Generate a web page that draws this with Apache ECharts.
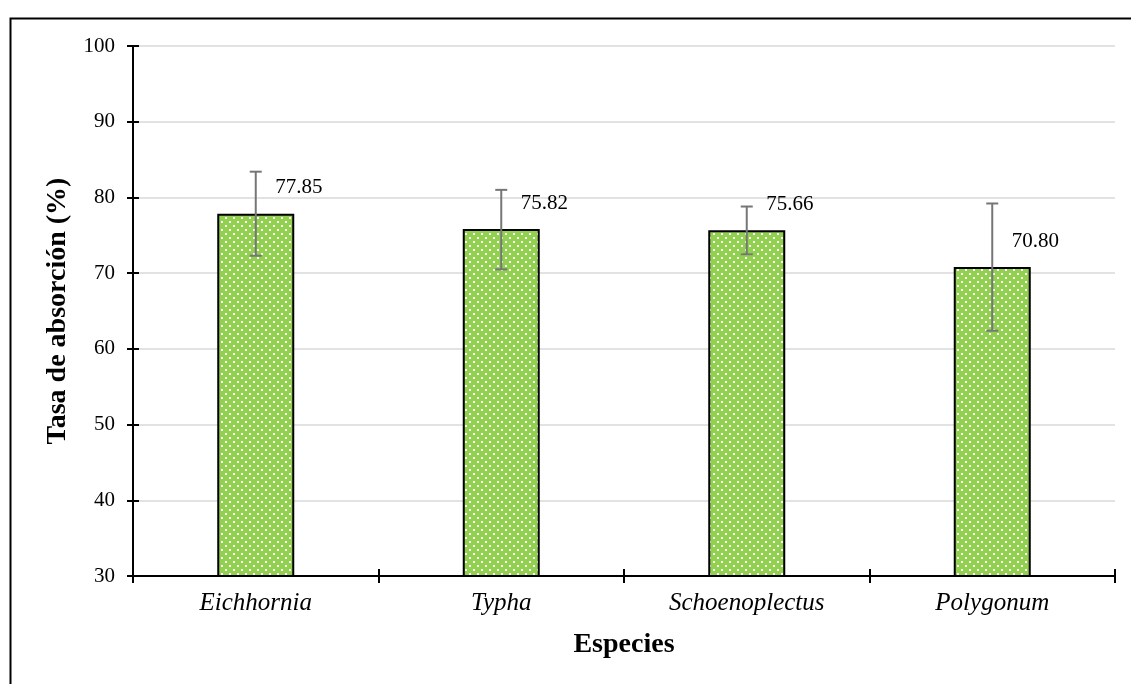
<!DOCTYPE html>
<html>
<head>
<meta charset="utf-8">
<script src="https://cdn.jsdelivr.net/npm/echarts@6/dist/echarts.min.js"></script>
<style>html,body{margin:0;padding:0;background:#fff;}#c{width:1131px;height:684px;}</style>
</head>
<body>
<div id="c"></div>
<script>
const categories = ['Eichhornia', 'Typha', 'Schoenoplectus', 'Polygonum'];
const values = [77.85, 75.82, 75.66, 70.80];
const errLow = [72.3, 70.5, 72.5, 62.4];
const errHigh = [83.4, 81.0, 78.8, 79.2];
const yTicks = [30, 40, 50, 60, 70, 80, 90, 100];

const FONT = '"Liberation Serif", "Times New Roman", serif';

function makePattern() {
  const c = document.createElement('canvas');
  c.width = 8; c.height = 8;
  const g = c.getContext('2d');
  g.fillStyle = '#92D050';
  g.fillRect(0, 0, 8, 8);
  g.fillStyle = '#ffffff';
  g.fillRect(1, 1, 2, 2);
  g.fillRect(5, 5, 2, 2);
  return c;
}

const chart = echarts.init(document.getElementById('c'), null, {renderer: 'canvas'});
const yMin = yTicks[0], yMax = yTicks[yTicks.length - 1], yStep = yTicks[1] - yTicks[0];

const option = {
  animation: false,
  backgroundColor: '#ffffff',
  graphic: [{
    type: 'rect', left: 8, top: 16,
    shape: {width: 1200, height: 720},
    style: {fill: 'none', stroke: '#000', lineWidth: 2}, z: 100, silent: true
  }],
  grid: {left: 133, right: 16, top: 46, bottom: 108, outerBoundsMode: 'none', containLabel: false},
  xAxis: [{
    type: 'category', data: categories, position: 'bottom',
    axisLine: {show: true, lineStyle: {color: '#000', width: 2}},
    axisTick: {show: true, inside: false, length: 7, alignWithLabel: false, lineStyle: {color: '#000', width: 2}},
    axisLabel: {fontFamily: FONT, fontStyle: 'italic', fontSize: 25, color: '#000', margin: 15},
    name: 'Especies', nameLocation: 'middle', nameGap: 55,
    nameTextStyle: {fontFamily: FONT, fontWeight: 'bold', fontSize: 28, color: '#000'},
    splitLine: {show: false}
  }, {
    type: 'category', data: categories, position: 'bottom',
    axisLine: {show: false},
    axisTick: {show: true, inside: true, length: 7, alignWithLabel: false, lineStyle: {color: '#000', width: 2}},
    axisLabel: {show: false}, splitLine: {show: false}
  }],
  yAxis: [{
    type: 'value', min: yMin, max: yMax, interval: yStep,
    axisLine: {show: true, lineStyle: {color: '#000', width: 2}},
    axisTick: {show: true, inside: false, length: 6, lineStyle: {color: '#000', width: 2}},
    axisLabel: {fontFamily: FONT, fontSize: 21, color: '#000', margin: 18},
    splitLine: {show: true, lineStyle: {color: '#d9d9d9', width: 1.5}},
    name: 'Tasa de absorción (%)', nameLocation: 'middle', nameGap: 61, nameRotate: 90,
    nameTextStyle: {fontFamily: FONT, fontWeight: 'bold', fontSize: 28, color: '#000'}
  }, {
    type: 'value', min: yMin, max: yMax, interval: yStep, position: 'left',
    axisLine: {show: false},
    axisTick: {show: true, inside: true, length: 6, lineStyle: {color: '#000', width: 2}},
    axisLabel: {show: false}, splitLine: {show: false}
  }],
  series: [{
    type: 'bar', xAxisIndex: 0, yAxisIndex: 0,
    data: values, barWidth: 77,
    itemStyle: {color: {image: makePattern(), repeat: 'repeat'}, borderColor: '#000', borderWidth: 2},
    label: {
      show: true, position: [58, -26], align: 'left', verticalAlign: 'middle',
      fontFamily: FONT, fontSize: 21, color: '#000',
      formatter: p => p.value.toFixed(2)
    },
    z: 2
  }, {
    type: 'custom', xAxisIndex: 0, yAxisIndex: 0,
    data: categories.map((c, i) => [i, errLow[i], errHigh[i]]),
    renderItem: function (params, api) {
      const x = api.value(0);
      const lo = api.coord([x, api.value(1)]);
      const hi = api.coord([x, api.value(2)]);
      const hw = 6;
      const st = {stroke: '#767676', lineWidth: 2};
      return {type: 'group', children: [
        {type: 'line', shape: {x1: hi[0], y1: hi[1], x2: lo[0], y2: lo[1]}, style: st},
        {type: 'line', shape: {x1: hi[0] - hw, y1: hi[1], x2: hi[0] + hw, y2: hi[1]}, style: st},
        {type: 'line', shape: {x1: lo[0] - hw, y1: lo[1], x2: lo[0] + hw, y2: lo[1]}, style: st}
      ]};
    },
    z: 5
  }]
};
chart.setOption(option);
</script>
</body>
</html>
